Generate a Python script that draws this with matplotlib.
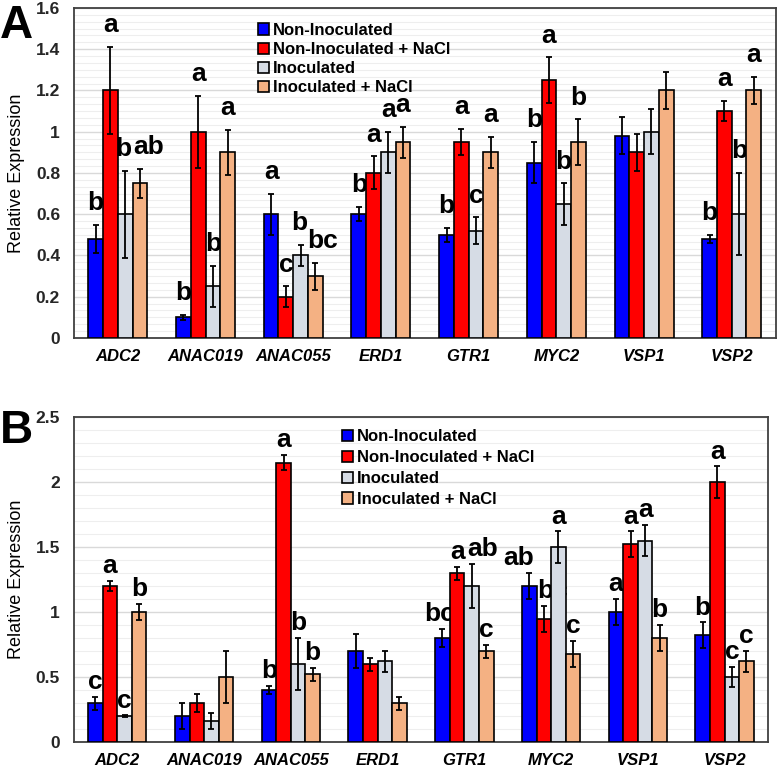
import numpy as np
import matplotlib
matplotlib.use("Agg")
import matplotlib.pyplot as plt
from matplotlib.ticker import MultipleLocator

plt.rcParams["font.family"] = ["Liberation Sans", "DejaVu Sans"]

genes = ["ADC2", "ANAC019", "ANAC055", "ERD1", "GTR1", "MYC2", "VSP1", "VSP2"]
treatments = ["Non-Inoculated", "Non-Inoculated + NaCl", "Inoculated", "Inoculated + NaCl"]
colors = ["#0000ff", "#ff0000", "#d6dce5", "#f4b183"]

# panel A values (one list per treatment, in gene order)
a_non = [0.48, 0.10, 0.60, 0.60, 0.50, 0.85, 0.98, 0.48]
a_non_nacl = [1.20, 1.00, 0.20, 0.80, 0.95, 1.25, 0.90, 1.10]
a_ino = [0.60, 0.25, 0.40, 0.90, 0.52, 0.65, 1.00, 0.60]
a_ino_nacl = [0.75, 0.90, 0.30, 0.95, 0.90, 0.95, 1.20, 1.20]
a_err_non = [0.07, 0.012, 0.10, 0.035, 0.035, 0.10, 0.09, 0.02]
a_err_non_nacl = [0.21, 0.175, 0.05, 0.08, 0.065, 0.11, 0.09, 0.05]
a_err_ino = [0.21, 0.10, 0.05, 0.10, 0.065, 0.10, 0.11, 0.20]
a_err_ino_nacl = [0.07, 0.11, 0.065, 0.075, 0.075, 0.11, 0.09, 0.065]
a_let_non = ["b", "b", "a", "b", "b", "b", "", "b"]
a_let_non_nacl = ["a", "a", "c", "a", "a", "a", "", "a"]
a_let_ino = ["b", "b", "b", "a", "c", "b", "", "b"]
a_let_ino_nacl = ["ab", "a", "bc", "a", "a", "b", "", "a"]

# panel B values
b_non = [0.30, 0.20, 0.40, 0.70, 0.80, 1.20, 1.00, 0.82]
b_non_nacl = [1.20, 0.30, 2.15, 0.60, 1.30, 0.95, 1.52, 2.00]
b_ino = [0.20, 0.16, 0.60, 0.62, 1.20, 1.50, 1.55, 0.50]
b_ino_nacl = [1.00, 0.50, 0.52, 0.30, 0.70, 0.68, 0.80, 0.62]
b_err_non = [0.05, 0.10, 0.03, 0.13, 0.07, 0.10, 0.10, 0.10]
b_err_non_nacl = [0.04, 0.07, 0.06, 0.05, 0.05, 0.10, 0.10, 0.12]
b_err_ino = [0.005, 0.06, 0.20, 0.08, 0.17, 0.12, 0.12, 0.08]
b_err_ino_nacl = [0.06, 0.20, 0.05, 0.05, 0.05, 0.10, 0.10, 0.08]
b_let_non = ["c", "", "b", "", "bc", "ab", "a", "b"]
b_let_non_nacl = ["a", "", "a", "", "a", "bc", "a", "a"]
b_let_ino = ["c", "", "b", "", "ab", "a", "a", "c"]
b_let_ino_nacl = ["b", "", "b", "", "c", "c", "b", "c"]

# sideways shifts (points) for crowded letters: (gene index, treatment index)
a_nudge = {(0, 2): -1.5, (0, 3): 6, (2, 2): -1, (2, 3): 5}
b_nudge = {(4, 2): 8, (5, 0): -8, (5, 1): 6, (4, 0): -2}


def draw_panel(ax, vals, errs, lets, ymax, major, minor, legend_xy, let_off,
               nudge, lspace):
    x = np.arange(len(genes))
    w = 0.168
    for i in range(4):
        pos = x + (i - 1.5) * w
        ax.bar(pos, vals[i], w, color=colors[i], edgecolor="black",
               linewidth=1.2, label=treatments[i], zorder=3)
        ax.errorbar(pos, vals[i], yerr=errs[i], fmt="none", ecolor="black",
                    elinewidth=1.3, capsize=2.5, capthick=1.3, zorder=4)
        for g, (p, v, e, t) in enumerate(zip(pos, vals[i], errs[i], lets[i])):
            if t:
                dx = nudge.get((g, i), 0)
                ax.annotate(t, (p, v + e), xytext=(dx, let_off), textcoords="offset points",
                            ha="center", va="bottom", fontsize=19, fontweight="bold")

    ax.set_xlim(-0.5, len(genes) - 0.5)
    ax.set_ylim(0, ymax)
    ax.yaxis.set_major_locator(MultipleLocator(major))
    ax.yaxis.set_minor_locator(MultipleLocator(minor))
    ax.yaxis.set_major_formatter(plt.FuncFormatter(lambda v, _: f"{v:g}"))
    ax.grid(axis="y", which="major", color="#d9d9d9", linewidth=1.0, zorder=0)
    ax.grid(axis="y", which="minor", color="#eeeeee", linewidth=0.8, zorder=0)
    ax.set_axisbelow(True)

    ax.set_xticks(x)
    ax.set_xticklabels(genes, fontsize=12, fontweight="bold", fontstyle="italic")
    ax.tick_params(axis="x", length=0, pad=8)
    ax.tick_params(axis="y", which="both", length=0, pad=10, labelsize=12.5,
                   labelcolor="#262626")
    for lab in ax.get_yticklabels():
        lab.set_fontweight("bold")
    ax.set_ylabel("Relative Expression", fontsize=13, labelpad=8)
    for s in ax.spines.values():
        s.set_color("#404040")
        s.set_linewidth(1.3)

    ax.legend(loc="upper left", bbox_to_anchor=legend_xy, frameon=False,
              prop={"size": 12, "weight": "bold"}, handlelength=0.65,
              handleheight=0.65, handletextpad=0.25, labelspacing=lspace,
              borderpad=0, borderaxespad=0)


fig = plt.figure(figsize=(7.77, 7.69), dpi=100)
ax_a = fig.add_axes([0.0952, 0.5605, 0.9030, 0.4291])
ax_b = fig.add_axes([0.0952, 0.0351, 0.8932, 0.4226])

draw_panel(ax_a,
           [a_non, a_non_nacl, a_ino, a_ino_nacl],
           [a_err_non, a_err_non_nacl, a_err_ino, a_err_ino_nacl],
           [a_let_non, a_let_non_nacl, a_let_ino, a_let_ino_nacl],
           1.6, 0.2, 0.2 / 6, (0.262, 0.955), 7, a_nudge, 0.25)
draw_panel(ax_b,
           [b_non, b_non_nacl, b_ino, b_ino_nacl],
           [b_err_non, b_err_non_nacl, b_err_ino, b_err_ino_nacl],
           [b_let_non, b_let_non_nacl, b_let_ino, b_let_ino_nacl],
           2.5, 0.5, 0.1, (0.386, 0.962), 2, b_nudge, 0.35)

fig.text(0.0, 0.995, "A", fontsize=33, fontweight="bold", va="top", ha="left")
fig.text(0.0, 0.468, "B", fontsize=33, fontweight="bold", va="top", ha="left")

fig.savefig("out.png", dpi=100)
